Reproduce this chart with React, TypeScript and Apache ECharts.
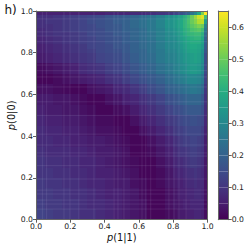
import React, { useEffect, useRef } from "react";
import * as echarts from "echarts";

const viridis = ["#440154", "#482475", "#414487", "#355f8d", "#2a788e", "#21918c", "#22a884", "#44bf70", "#7ad151", "#bddf26", "#fde725"];
const vMax = 0.65;

const xEdges = [0, .05, .1, .15, .2, .25, .3, .35, .4, .45, .5, .55, .6, .65, .7, .75, .8, .82, .84, .86, .88, .9, .92, .94, .96, .98, 1];
// rows listed from the top (p(0|0) = 1) to the bottom (p(0|0) = 0)
const yEdges = [1, .98, .96, .94, .92, .9, .88, .86, .84, .82, .8, .75, .7, .65, .6, .55, .5, .45, .4, .35, .3, .25, .2, .15, .1, .05, 0];
const field = [
  [.06,.06,.06,.06,.06,.06,.06,.06,.07,.07,.07,.08,.08,.09,.10,.11,.13,.14,.16,.18,.21,.25,.30,.38,.52,.65],
  [.09,.09,.10,.11,.12,.13,.14,.15,.17,.18,.19,.21,.23,.25,.28,.32,.34,.36,.38,.41,.45,.50,.55,.60,.62,.45],
  [.09,.10,.10,.11,.12,.13,.15,.16,.17,.19,.20,.22,.24,.26,.29,.33,.35,.37,.39,.42,.46,.50,.53,.57,.58,.35],
  [.09,.09,.10,.11,.12,.13,.14,.16,.17,.18,.20,.22,.24,.26,.29,.33,.35,.37,.39,.42,.45,.48,.50,.52,.50,.28],
  [.08,.09,.10,.11,.12,.13,.14,.15,.17,.18,.20,.21,.23,.26,.28,.32,.34,.36,.38,.41,.43,.46,.47,.48,.45,.25],
  [.08,.09,.10,.10,.11,.12,.14,.15,.16,.18,.19,.21,.23,.25,.28,.31,.33,.35,.37,.40,.42,.43,.44,.44,.41,.22],
  [.07,.08,.09,.10,.11,.12,.13,.15,.16,.17,.19,.21,.23,.25,.28,.31,.32,.34,.36,.38,.40,.41,.42,.42,.39,.20],
  [.07,.08,.09,.10,.11,.12,.13,.14,.16,.17,.19,.20,.22,.24,.27,.30,.31,.33,.35,.37,.39,.40,.40,.40,.37,.19],
  [.06,.07,.08,.09,.10,.11,.13,.14,.15,.17,.18,.20,.22,.24,.27,.30,.31,.32,.34,.36,.38,.39,.39,.38,.35,.18],
  [.06,.07,.08,.09,.10,.11,.12,.14,.15,.16,.18,.20,.21,.24,.26,.29,.30,.32,.33,.35,.37,.38,.38,.37,.33,.17],
  [.05,.06,.07,.08,.09,.10,.11,.13,.14,.15,.17,.19,.21,.23,.26,.28,.29,.31,.32,.34,.35,.36,.37,.36,.32,.15],
  [.02,.03,.04,.05,.06,.08,.09,.10,.12,.13,.15,.17,.19,.21,.24,.26,.28,.29,.31,.32,.34,.35,.35,.34,.30,.14],
  [.01,.01,.02,.03,.04,.05,.06,.07,.09,.10,.12,.14,.16,.18,.20,.23,.25,.26,.27,.28,.30,.30,.30,.29,.26,.12],
  [.03,.03,.02,.015,.01,.01,.03,.04,.05,.07,.08,.10,.12,.15,.17,.20,.21,.22,.23,.24,.25,.26,.26,.25,.22,.10],
  [.05,.05,.04,.04,.03,.02,.01,.01,.03,.04,.06,.07,.09,.11,.13,.16,.17,.18,.19,.20,.21,.21,.21,.21,.18,.09],
  [.06,.05,.05,.04,.04,.03,.02,.01,.01,.02,.03,.05,.07,.09,.11,.13,.15,.15,.16,.17,.18,.18,.18,.18,.16,.08],
  [.07,.06,.06,.05,.05,.04,.03,.02,.02,.01,.01,.03,.05,.07,.09,.11,.12,.13,.14,.15,.15,.16,.16,.15,.14,.07],
  [.08,.07,.07,.06,.06,.05,.04,.03,.03,.02,.01,.01,.03,.05,.07,.09,.11,.12,.12,.13,.14,.14,.14,.14,.12,.06],
  [.08,.08,.07,.07,.06,.06,.05,.05,.04,.03,.02,.01,.01,.03,.05,.07,.09,.10,.11,.12,.12,.13,.13,.12,.11,.05],
  [.09,.08,.08,.08,.07,.07,.06,.05,.05,.04,.03,.01,.01,.02,.04,.06,.08,.09,.10,.10,.11,.12,.12,.11,.10,.05],
  [.10,.09,.09,.08,.08,.07,.07,.06,.05,.04,.03,.02,.01,.01,.03,.05,.07,.08,.08,.09,.10,.11,.11,.10,.09,.04],
  [.10,.10,.09,.09,.08,.08,.07,.06,.06,.05,.04,.03,.01,.01,.02,.04,.06,.07,.07,.08,.09,.09,.10,.09,.08,.04],
  [.11,.10,.10,.09,.09,.08,.07,.07,.06,.05,.05,.03,.02,.01,.02,.04,.05,.06,.06,.07,.08,.08,.09,.08,.08,.03],
  [.11,.11,.10,.10,.09,.09,.08,.07,.06,.06,.05,.04,.02,.01,.01,.03,.04,.05,.06,.06,.07,.07,.08,.08,.07,.03],
  [.12,.11,.11,.10,.10,.09,.08,.08,.07,.06,.05,.04,.03,.01,.01,.03,.04,.04,.05,.06,.06,.07,.07,.07,.07,.02],
  [.13,.12,.11,.11,.10,.09,.09,.08,.07,.06,.05,.04,.03,.01,.01,.02,.03,.04,.05,.05,.06,.06,.07,.07,.06,.02],
];
const seamX = [.037, .062, .163, .198, .25, .338, .455, .478, .513, .618, .64, .669, .775, .805, .834, .875];
const seamY = [.962, .9, .88, .853, .741, .714, .684, .636, .565, .5, .41, .358, .32, .305, .259, .195, .142, .123, .094, .075, .051];
const barTicks = [0, .1, .2, .3, .4, .5, .6];
const barLevels = [0, .05, .1, .15, .2, .25, .3, .35, .4, .45, .5, .55, .6, .65];

const FONT = "DejaVu Sans";
const colorOf = (v: number) => echarts.color.lerp(Math.min(1, Math.max(0, v / vMax)), viridis) as string;

export default function App() {
  const ref = useRef<HTMLDivElement>(null);
  useEffect(() => {
    const chart = echarts.init(ref.current!, null, { renderer: "svg" });
    const cells: number[][] = [];
    field.forEach((row, r) => row.forEach((v, c) => cells.push([c, r, v])));
    const label = { fontFamily: FONT, fontSize: 7.7, color: "#222", margin: 3, hideOverlap: false };
    const tick = { show: true, length: 3, lineStyle: { color: "#333", width: 0.8 } };
    const spine = { show: true, onZero: false, lineStyle: { color: "#666", width: 1 } };
    const hidden = { show: true, axisLabel: { show: false }, axisTick: { show: false }, splitLine: { show: false }, axisLine: spine, z: 5 };
    const nameStyle = {
      fontFamily: FONT, fontSize: 9.8, color: "#111",
      rich: { i: { fontFamily: FONT, fontSize: 9.8, fontStyle: "italic" as const, color: "#111" }, n: { fontFamily: FONT, fontSize: 9.8, color: "#111" } },
    };
    const ticks01 = { min: 0, max: 1, interval: 0.2 };
    chart.setOption({
      animation: false,
      backgroundColor: "#fff",
      title: { text: "h)", left: 4.5, top: 3.5, padding: 0, textStyle: { fontFamily: FONT, fontSize: 12, fontWeight: "normal", color: "#111" } },
      grid: [
        { left: 36, top: 11, width: 171.5, height: 208.7, outerBoundsMode: "none" },
        { left: 218.3, top: 11, width: 10.4, height: 208.7, outerBoundsMode: "none" },
      ],
      xAxis: [
        { type: "value", gridIndex: 0, ...ticks01, position: "bottom", z: 5, splitLine: { show: false }, axisLine: spine, axisTick: tick,
          axisLabel: { ...label, formatter: (v: number) => v.toFixed(1), showMinLabel: true, showMaxLabel: true },
          name: "{i|p}{n|(1|1)}", nameLocation: "middle", nameGap: 13, nameMoveOverlap: false, nameTextStyle: nameStyle },
        { type: "value", gridIndex: 0, ...ticks01, position: "top", ...hidden },
        { type: "value", gridIndex: 1, min: 0, max: 1, position: "bottom", ...hidden },
        { type: "value", gridIndex: 1, min: 0, max: 1, position: "top", ...hidden },
      ],
      yAxis: [
        { type: "value", gridIndex: 0, ...ticks01, position: "left", z: 5, splitLine: { show: false }, axisLine: spine, axisTick: tick,
          axisLabel: { ...label, formatter: (v: number) => v.toFixed(1), showMinLabel: true, showMaxLabel: true },
          name: "{i|p}{n|(0|0)}", nameLocation: "middle", nameGap: 20, nameMoveOverlap: false, nameTextStyle: nameStyle },
        { type: "value", gridIndex: 0, ...ticks01, position: "right", ...hidden },
        { type: "value", gridIndex: 1, min: 0, max: vMax, position: "left", ...hidden },
        { type: "value", gridIndex: 1, min: 0, max: vMax, interval: 0.1, position: "right", z: 5, splitLine: { show: false }, axisLine: spine, axisTick: tick,
          axisLabel: { ...label, formatter: (v: number) => (barTicks.includes(Math.round(v * 10) / 10) ? v.toFixed(1) : ""), showMinLabel: true, showMaxLabel: false } },
      ],
      series: [
        {
          type: "custom", xAxisIndex: 0, yAxisIndex: 0, silent: true, data: cells, z: 2,
          renderItem: (_: any, api: any) => {
            const c = api.value(0), r = api.value(1), v = api.value(2);
            const a = api.coord([xEdges[c], yEdges[r]]);
            const b = api.coord([xEdges[c + 1], yEdges[r + 1]]);
            const x0 = Math.round(a[0]), y0 = Math.round(a[1]);
            return { type: "rect", shape: { x: x0, y: y0, width: Math.round(b[0]) - x0, height: Math.round(b[1]) - y0 }, style: { fill: colorOf(v), stroke: "none" } };
          },
        },
        {
          type: "custom", xAxisIndex: 0, yAxisIndex: 0, silent: true, z: 3, data: seamX.map((x) => [x]),
          renderItem: (_: any, api: any) => {
            const a = api.coord([api.value(0), 0]);
            const b = api.coord([api.value(0), 1]);
            return { type: "line", shape: { x1: a[0], y1: a[1], x2: b[0], y2: b[1] }, style: { stroke: "rgba(190,195,225,0.13)", lineWidth: 1 } };
          },
        },
        {
          type: "custom", xAxisIndex: 0, yAxisIndex: 0, silent: true, z: 3, data: seamY.map((y) => [y]),
          renderItem: (_: any, api: any) => {
            const a = api.coord([0, api.value(0)]);
            const b = api.coord([1, api.value(0)]);
            return { type: "line", shape: { x1: a[0], y1: a[1], x2: b[0], y2: b[1] }, style: { stroke: "rgba(190,195,225,0.13)", lineWidth: 1 } };
          },
        },
        {
          type: "custom", xAxisIndex: 2, yAxisIndex: 2, silent: true, z: 2, data: barLevels.slice(0, -1).map((v, i) => [v, barLevels[i + 1]]),
          renderItem: (_: any, api: any) => {
            const lo = api.value(0), hi = api.value(1);
            const a = api.coord([0, hi]);
            const b = api.coord([1, lo]);
            return {
              type: "rect", shape: { x: a[0], y: a[1], width: b[0] - a[0], height: b[1] - a[1] },
              style: { stroke: "none", fill: new echarts.graphic.LinearGradient(0, 1, 0, 0, [{ offset: 0, color: colorOf(lo) }, { offset: 1, color: colorOf(hi) }]) },
            };
          },
        },
      ],
    });
    return () => chart.dispose();
  }, []);
  return <div ref={ref} style={{ position: "fixed", left: 0, top: 0, width: 249, height: 248 }} />;
}
